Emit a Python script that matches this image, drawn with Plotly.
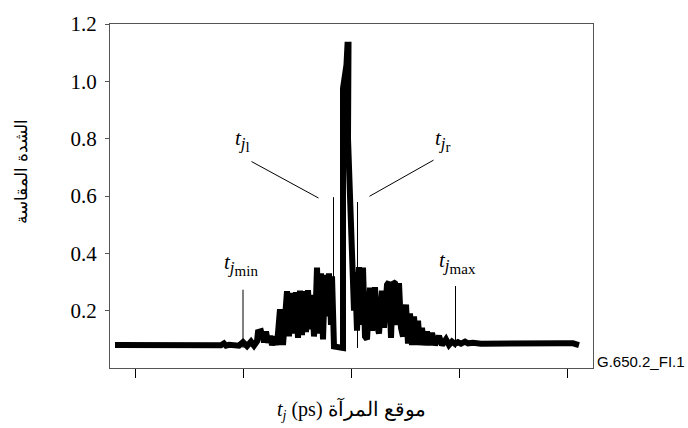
import plotly.graph_objects as go

# Mirror position (arbitrary delay units, one tick every 108) and measured intensity
position = [
    -236, -200, -160, -130, -127, -125, -122, -116, -112, -108, -104, -100, -97, -94,
    -93, -90, -87, -85, -83, -81, -79, -76, -74, -71, -68,
    -64, -62, -60, -57, -55, -53, -51, -49, -47, -45, -43, -41, -39, -37, -35,
    -34, -32, -30, -28, -26, -24, -22, -20, -19, -17, -14, -10,
    -8, -8, -4.5, -3.5, -2.5, -3, 0,
    1, 3, 4, 6, 8, 10, 12, 14, 16, 19, 21, 24, 26, 28, 31, 33, 36, 38, 40,
    42, 44, 46, 48, 50, 52, 55, 57, 59, 61, 63, 65, 67, 69, 71, 73, 76, 78,
    81, 84, 88, 91, 95, 98, 101, 104, 107, 110, 114, 117, 122, 130, 150, 180,
    210, 222, 228,
]
intensity = [
    0.080, 0.081, 0.080, 0.079, 0.086, 0.078, 0.081, 0.080, 0.078, 0.090, 0.076, 0.092, 0.078, 0.093,
    0.125, 0.128, 0.090, 0.127, 0.088, 0.112, 0.080, 0.110, 0.080, 0.205, 0.080,
    0.268, 0.110, 0.262, 0.120, 0.265, 0.105, 0.270, 0.115, 0.268, 0.125, 0.272, 0.135, 0.255, 0.110, 0.240,
    0.350, 0.120, 0.330, 0.100, 0.325, 0.180, 0.330, 0.150, 0.320, 0.075, 0.075, 0.075,
    0.070, 0.975, 1.058, 1.128, 1.128, 0.800, 0.450,
    0.345, 0.200, 0.335, 0.130, 0.352, 0.150, 0.350, 0.110, 0.100, 0.280, 0.130, 0.282, 0.150, 0.120, 0.270, 0.140, 0.290, 0.300, 0.105,
    0.300, 0.295, 0.150, 0.296, 0.140, 0.110, 0.221, 0.085, 0.190, 0.080, 0.180, 0.080, 0.165, 0.080, 0.140, 0.080, 0.128, 0.080,
    0.122, 0.080, 0.112, 0.080, 0.100, 0.080, 0.092, 0.084, 0.090, 0.085, 0.092, 0.086, 0.088, 0.085, 0.084, 0.085,
    0.086, 0.086, 0.080,
]

# Axis ticks
x_ticks = [-216, -108, 0, 108, 216]
y_ticks = [0.2, 0.4, 0.6, 0.8, 1.0, 1.2]
y_tick_text = ["0.2", "0.4", "0.6", "0.8", "1.0", "1.2"]

# Characteristic positions and the top of each marker line
tj_min = -108
tj_max = 104.5
tj_l = -17.5
tj_r = 6.5
tj_min_top = 0.273
tj_max_top = 0.286
tj_l_top = 0.596
tj_r_top = 0.579
marker_base = 0.07

SERIF = "Liberation Serif"
AXIS_GREY = "#555555"

fig = go.Figure()

fig.add_trace(go.Scatter(
    x=position, y=intensity, mode="lines",
    line=dict(color="black", width=6, shape="linear"),
    hoverinfo="skip", showlegend=False,
))

# Vertical markers at the characteristic positions
for xv, top in [(tj_min, tj_min_top), (tj_max, tj_max_top), (tj_l, tj_l_top), (tj_r, tj_r_top)]:
    fig.add_shape(type="line", xref="x", yref="y", x0=xv, x1=xv, y0=marker_base, y1=top,
                  line=dict(color="black", width=1))

label_font = dict(family=SERIF, size=21, color="black")


def tj_label(sub):
    return ("<i>t</i><sub><span style='font-size:17px'><i>j</i></span>"
            "<sub><span style='font-size:15px'>" + sub + "</span></sub></sub>")


# Labels for t_jmin and t_jmax sit directly above their markers
fig.add_annotation(x=tj_min, y=tj_min_top, xref="x", yref="y", text=tj_label("min"),
                   showarrow=False, yanchor="bottom", yshift=9, xshift=-2, font=label_font)
fig.add_annotation(x=tj_max, y=tj_max_top, xref="x", yref="y", text=tj_label("max"),
                   showarrow=False, yanchor="bottom", yshift=7, xshift=2, font=label_font)

# Leader lines from the t_jl and t_jr labels towards the central markers
fig.add_annotation(x=tj_l - 15, y=0.593, ax=-101, ay=0.723, xref="x", yref="y",
                   axref="x", ayref="y", text="", showarrow=True, arrowhead=0,
                   arrowwidth=1, arrowcolor="black", standoff=0, startstandoff=0)
fig.add_annotation(x=tj_r + 12, y=0.599, ax=84, ay=0.728, xref="x", yref="y",
                   axref="x", ayref="y", text="", showarrow=True, arrowhead=0,
                   arrowwidth=1, arrowcolor="black", standoff=0, startstandoff=0)
fig.add_annotation(x=-109, y=0.725, xref="x", yref="y", text=tj_label("l"),
                   showarrow=False, yanchor="bottom", yshift=3, font=label_font)
fig.add_annotation(x=92, y=0.725, xref="x", yref="y", text=tj_label("r"),
                   showarrow=False, yanchor="bottom", yshift=3, font=label_font)

# Axis titles and figure reference
fig.add_annotation(x=0.501, y=0, xref="paper", yref="paper", yshift=-42,
                   text="<i>t</i><sub><i>j</i></sub> (ps) موقع المرآة",
                   showarrow=False, xanchor="center", yanchor="middle",
                   font=dict(family=SERIF, size=20, color="black"))
fig.add_annotation(x=0, y=0.571, xref="paper", yref="paper", xshift=-88,
                   text="الشدة المقاسة", textangle=-90,
                   showarrow=False, xanchor="center", yanchor="middle",
                   font=dict(family=SERIF, size=17, color="black"))
fig.add_annotation(x=1, y=0, xref="paper", yref="paper", xshift=2, yshift=7,
                   text="G.650.2_FI.1", showarrow=False,
                   xanchor="left", yanchor="middle",
                   font=dict(family="Liberation Sans", size=15, color="black"))

fig.update_layout(
    width=688, height=428,
    margin=dict(l=110, r=95, t=14, b=60),
    paper_bgcolor="white", plot_bgcolor="white",
    font=dict(family=SERIF, color="black"),
    showlegend=False,
    xaxis=dict(
        range=[-241, 242], tickvals=x_ticks, showticklabels=False,
        ticks="outside", ticklen=9, tickwidth=1, tickcolor="black",
        showline=True, linecolor=AXIS_GREY, linewidth=1.3, mirror=True,
        showgrid=False, zeroline=False,
    ),
    xaxis2=dict(
        overlaying="x", matches="x", anchor="y", side="bottom",
        tickvals=x_ticks, showticklabels=False,
        ticks="inside", ticklen=14, tickwidth=1, tickcolor="black",
        showline=False, showgrid=False, zeroline=False,
    ),
    yaxis=dict(
        range=[0, 1.2], tickvals=y_ticks, ticktext=y_tick_text,
        ticks="outside", ticklen=4, tickwidth=1.3, tickcolor=AXIS_GREY,
        ticklabelstandoff=4,
        tickfont=dict(family=SERIF, size=21, color="black"),
        showline=True, linecolor=AXIS_GREY, linewidth=1.3, mirror=True,
        showgrid=False, zeroline=False,
    ),
    yaxis2=dict(
        overlaying="y", matches="y", anchor="x", side="left",
        tickvals=y_ticks, showticklabels=False,
        ticks="inside", ticklen=12, tickwidth=1.3, tickcolor=AXIS_GREY,
        showline=False, showgrid=False, zeroline=False,
    ),
)

fig.write_html("out.html")
